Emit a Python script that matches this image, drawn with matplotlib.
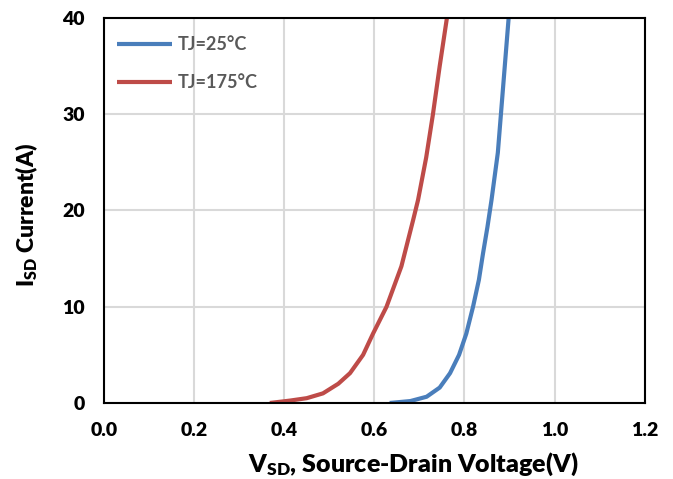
import matplotlib
matplotlib.use("Agg")
import matplotlib.pyplot as plt

plt.rcParams["font.family"] = ["Lato", "DejaVu Sans"]
plt.rcParams["font.weight"] = "heavy"
plt.rcParams["axes.labelweight"] = "heavy"
plt.rcParams["mathtext.fontset"] = "custom"
plt.rcParams["mathtext.rm"] = "Lato:heavy"
plt.rcParams["mathtext.it"] = "Lato:heavy"
plt.rcParams["mathtext.bf"] = "Lato:heavy"
plt.rcParams["mathtext.default"] = "rm"

# Source-drain diode curves
v_25 = [0.634, 0.68, 0.716, 0.745, 0.768, 0.788, 0.804, 0.819, 0.832, 0.841, 0.851, 0.860, 0.874, 0.886, 0.898]
i_25 = [0.0, 0.2, 0.65, 1.6, 3.1, 5.0, 7.2, 10.0, 12.8, 15.5, 18.3, 21.1, 26.0, 33.0, 40.0]

v_175 = [0.368, 0.413, 0.450, 0.486, 0.520, 0.546, 0.575, 0.597, 0.627, 0.660, 0.686, 0.697, 0.715, 0.730, 0.745, 0.761]
i_175 = [0.0, 0.25, 0.5, 1.0, 2.0, 3.1, 5.0, 7.2, 10.0, 14.2, 19.0, 21.1, 25.5, 30.0, 35.0, 40.0]

fig = plt.figure(figsize=(6.73, 4.79), dpi=100)
ax = fig.add_axes([0.1545, 0.1587, 0.8035, 0.8037])

ax.plot(v_25, i_25, color="#4a7ebb", lw=3, label="TJ=25°C", solid_capstyle="butt")
ax.plot(v_175, i_175, color="#be4b48", lw=3, label="TJ=175°C", solid_capstyle="butt")

ax.set_xlim(0, 1.2)
ax.set_ylim(0, 40)
ax.set_xticks([0.0, 0.2, 0.4, 0.6, 0.8, 1.0, 1.2])
ax.set_xticklabels(["0.0", "0.2", "0.4", "0.6", "0.8", "1.0", "1.2"])
ax.set_yticks([0, 10, 20, 30, 40])
ax.grid(True, color="#d9d9d9", lw=1.5)
ax.set_axisbelow(True)
for s in ax.spines.values():
    s.set_color("black")
    s.set_linewidth(1.5)
ax.tick_params(length=0, labelsize=14, pad=14)

ax.set_xlabel("V$_{SD}$, Source-Drain Voltage(V)", fontsize=18, va="center")
ax.set_ylabel("I$_{SD}$ Current(A)", fontsize=16.5)
ax.xaxis.set_label_coords(0.571, -0.16)
ax.yaxis.set_label_coords(-0.118, 0.49)

leg = ax.legend(loc="upper left", bbox_to_anchor=(0.025, 0.952), frameon=False,
                handlelength=3.0, labelspacing=1.15, borderaxespad=0.0,
                borderpad=0.0, handletextpad=0.35,
                prop={"size": 13, "weight": "bold"})
for t in leg.get_texts():
    t.set_color("#595959")

fig.savefig("out.png", dpi=100)
